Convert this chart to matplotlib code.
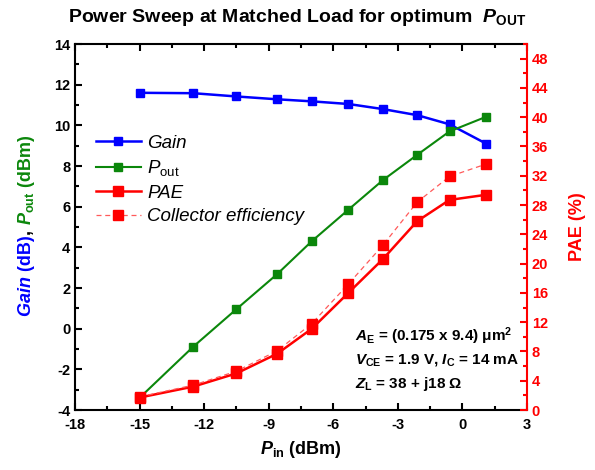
import numpy as np
import matplotlib
matplotlib.use("Agg")
import matplotlib.pyplot as plt
from matplotlib.ticker import MultipleLocator

plt.rcParams['font.family'] = ['Liberation Sans', 'DejaVu Sans']
plt.rcParams['axes.unicode_minus'] = False
plt.rcParams['mathtext.fontset'] = 'custom'
plt.rcParams['mathtext.rm'] = 'Liberation Sans:bold'
plt.rcParams['mathtext.it'] = 'Liberation Sans:bold:italic'
plt.rcParams['mathtext.bf'] = 'Liberation Sans:bold'
plt.rcParams['mathtext.sf'] = 'Liberation Sans'
plt.rcParams['mathtext.cal'] = 'Liberation Sans:italic'

# data
pin_dbm = [-15.0, -12.5, -10.5, -8.6, -7.0, -5.3, -3.7, -2.1, -0.6, 1.1]
gain_db = [11.6, 11.58, 11.42, 11.28, 11.18, 11.05, 10.8, 10.5, 10.05, 9.1]
pout_dbm = [-3.4, -0.88, 0.96, 2.69, 4.3, 5.85, 7.3, 8.55, 9.7, 10.42]
pae_pct = [1.7, 3.2, 5.0, 7.7, 11.1, 16.0, 20.6, 25.8, 28.7, 29.4]
ce_pct = [1.8, 3.4, 5.3, 8.1, 11.8, 17.2, 22.5, 28.4, 31.9, 33.6]

BLUE = '#0000FF'
GREEN = '#0B870B'
RED = '#FF0000'

fig = plt.figure(figsize=(5.95, 4.70), dpi=100)
ax = fig.add_axes([75 / 595, 1 - 410 / 470, (527 - 75) / 595, (410 - 44) / 470])
ax2 = ax.twinx()

ax.plot(pin_dbm, gain_db, '-s', color=BLUE, lw=1.8, ms=6, label='Gain')
ax.plot(pin_dbm, pout_dbm, '-s', color=GREEN, lw=1.5, ms=6,
        label='$\\mathcal{P}_{\\mathsf{out}}$')
ax2.plot(pin_dbm, pae_pct, '-s', color=RED, lw=1.8, ms=6.5, label='PAE')
ax2.plot(pin_dbm, ce_pct, '--s', color='#FF5A5A', mfc=RED, mec=RED, lw=0.9, ms=6.5,
         dashes=(4, 3), label='Collector efficiency')

ax.set_xlim(-18, 3)
ax.set_ylim(-4, 14)
ax2.set_ylim(0, 50)

ax.xaxis.set_major_locator(MultipleLocator(3))
ax.xaxis.set_minor_locator(MultipleLocator(1.5))
ax.yaxis.set_major_locator(MultipleLocator(2))
ax.yaxis.set_minor_locator(MultipleLocator(1))
ax2.yaxis.set_major_locator(MultipleLocator(4))
ax2.yaxis.set_minor_locator(MultipleLocator(2))

ax.tick_params(which='both', direction='in', top=True, right=False, width=1.5, labelsize=10.5)
ax.tick_params(which='major', length=5)
ax.tick_params(which='minor', length=3)
ax.tick_params(axis='x', pad=6)
ax2.tick_params(which='both', direction='in', colors=RED, width=1.5, labelsize=10.5)
ax2.tick_params(which='major', length=5)
ax2.tick_params(which='minor', length=3)

for s in ['left', 'bottom', 'top']:
    ax.spines[s].set_linewidth(1.5)
    ax2.spines[s].set_visible(False)
ax2.spines['right'].set_color(RED)
ax2.spines['right'].set_linewidth(1.5)
ax.spines['right'].set_visible(False)

for lab in ax.get_xticklabels() + ax.get_yticklabels() + ax2.get_yticklabels():
    lab.set_fontweight('bold')

ax.set_xlabel('$P_{\\rm in}$ (dBm)', fontsize=13, fontweight='bold', labelpad=5)
ax2.set_ylabel('PAE (%)', fontsize=13, fontweight='bold', color=RED, labelpad=15)

fig.text(0.5, 1 - 17 / 470, 'Power Sweep at Matched Load for optimum  $P_{\\rm OUT}$',
         ha='center', va='center', fontsize=14, fontweight='bold')

# multicolour rotated y label, built bottom-up
fig.canvas.draw()
renderer = fig.canvas.get_renderer()
parts = [('$Gain$', BLUE), (' (dB)', BLUE), (', ', 'black'),
         ('$P_{\\rm out}$', GREEN), (' (dBm)', GREEN)]
texts = [fig.text(0, 0, s, rotation=90, fontsize=13, fontweight='bold', color=c,
                  ha='left', va='baseline', rotation_mode='anchor') for s, c in parts]
heights = [t.get_window_extent(renderer).height for t in texts]
total = sum(heights)
ycur = 470 - (226 + total / 2)
for t, h in zip(texts, heights):
    t.set_position((31 / 595, ycur / 470))
    ycur += h

h1, l1 = ax.get_legend_handles_labels()
h2, l2 = ax2.get_legend_handles_labels()
ax2.legend(h1 + h2, l1 + l2, loc='upper left', bbox_to_anchor=(0.046, 0.753),
           frameon=False, prop={'size': 13.5, 'style': 'italic'},
           handlelength=2.4, handletextpad=0.35,
           labelspacing=0.35, borderaxespad=0, borderpad=0)

ann = ['$A_{\\rm E}$ = (0.175 x 9.4) \u03bcm$^2$',
       '$V_{\\rm CE}$ = 1.9 V, $I_{\\rm C}$ = 14 mA',
       '$Z_{\\rm L}$ = 38 + j18 \u03a9']
for i, s in enumerate(ann):
    fig.text(355 / 595, 1 - (336 + 24 * i) / 470, s, fontsize=11, fontweight='bold',
             va='center', ha='left')

fig.savefig('out.png', dpi=100)
